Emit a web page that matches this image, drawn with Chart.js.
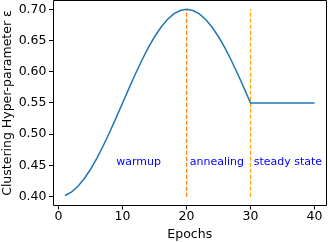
<!DOCTYPE html>
<html>
<head>
<meta charset="utf-8">
<script src="https://cdn.jsdelivr.net/npm/chart.js@4/dist/chart.umd.min.js"></script>
<style>
html,body{margin:0;padding:0;background:#fff;}
#wrap{width:330px;height:242px;position:relative;}
</style>
</head>
<body>
<div id="wrap"><canvas id="c" width="330" height="242"></canvas></div>
<script>
// Data
const epochs = [1,2,3,4,5,6,7,8,9,10,11,12,13,14,15,16,17,18,19,20,21,22,23,24,25,26,27,28,29,30,31,32,33,34,35,36,37,38,39,40];
const epsilon = [0.4018,0.4073,0.4163,0.4286,0.4439,0.4618,0.4819,0.5036,0.5265,0.5500,
                 0.5735,0.5964,0.6181,0.6382,0.6561,0.6714,0.6837,0.6927,0.6982,0.7000,
                 0.6982,0.6927,0.6837,0.6714,0.6561,0.6382,0.6181,0.5964,0.5735,0.5500,
                 0.5500,0.5500,0.5500,0.5500,0.5500,0.5500,0.5500,0.5500,0.5500,0.5500];
const phaseBoundaries = [20, 30];
const boundaryLow = 0.40;
const boundaryHigh = 0.70;
const phaseNames = ['warmup', 'annealing', 'steady state'];
const phaseLabelX = [9, 20.5, 30.5];
const phaseLabelY = 0.45;
const xTicks = [0, 10, 20, 30, 40];
const yTicks = [0.40, 0.45, 0.50, 0.55, 0.60, 0.65, 0.70];

const FONT = 'DejaVu Sans';
const mainData = epochs.map((e, i) => ({x: e, y: epsilon[i]}));
const boundaryColors = ['#ff7f0e', '#ffa500'];

const datasets = [{
  data: mainData,
  borderColor: '#1f77b4',
  borderWidth: 1.5,
  pointRadius: 0,
  tension: 0,
  fill: false
}];
phaseBoundaries.forEach((b, i) => {
  datasets.push({
    data: [{x: b, y: boundaryLow}, {x: b, y: boundaryHigh}],
    borderColor: boundaryColors[i],
    borderWidth: 1.3,
    borderDash: [4, 2],
    pointRadius: 0,
    fill: false
  });
});

const overlayPlugin = {
  id: 'overlay',
  afterDraw(chart) {
    const ctx = chart.ctx;
    const a = chart.chartArea;
    const xs = chart.scales.x, ys = chart.scales.y;
    ctx.save();
    ctx.fillStyle = '#0000ff';
    ctx.font = '11px "' + FONT + '"';
    ctx.textAlign = 'left';
    ctx.textBaseline = 'alphabetic';
    for (let i = 0; i < phaseNames.length; i++) {
      ctx.fillText(phaseNames[i], xs.getPixelForValue(phaseLabelX[i]), ys.getPixelForValue(phaseLabelY));
    }
    ctx.strokeStyle = '#000000';
    ctx.lineWidth = 1;
    ctx.setLineDash([]);
    const l = Math.round(a.left) + 0.5, t = Math.round(a.top) + 0.5;
    const r = Math.round(a.right) - 0.5, b = Math.round(a.bottom) - 0.5;
    ctx.beginPath();
    ctx.moveTo(l, t); ctx.lineTo(r, t); ctx.lineTo(r, b); ctx.lineTo(l, b); ctx.closePath();
    ctx.stroke();
    ctx.restore();
  }
};

new Chart(document.getElementById('c'), {
  type: 'line',
  data: {datasets},
  options: {
    responsive: false,
    animation: false,
    devicePixelRatio: 1,
    layout: {padding: {top: 0, right: 3, bottom: 0, left: 0}},
    plugins: {legend: {display: false}, tooltip: {enabled: false}},
    scales: {
      x: {
        type: 'linear',
        min: -0.95,
        max: 41.95,
        afterBuildTicks(s) { s.ticks = xTicks.map(v => ({value: v})); },
        afterFit(s) { s.height = 36; s.paddingLeft = 0; s.paddingRight = 0; },
        grid: {drawOnChartArea: false, drawTicks: true, tickLength: 3.5, color: '#000', tickColor: '#000'},
        border: {display: false},
        ticks: {color: '#000', font: {family: FONT, size: 12.5}, padding: 0, maxRotation: 0,
                callback: v => String(v)},
        title: {display: true, text: 'Epochs', color: '#000', font: {family: FONT, size: 12.5}, padding: {top: 1.5, bottom: 0}}
      },
      y: {
        type: 'linear',
        min: 0.385,
        max: 0.715,
        afterBuildTicks(s) { s.ticks = yTicks.map(v => ({value: v})); },
        afterFit(s) { s.width = 52.5; s.paddingTop = 0; s.paddingBottom = 0; },
        grid: {drawOnChartArea: false, drawTicks: true, tickLength: 3.5, color: '#000', tickColor: '#000'},
        border: {display: false},
        ticks: {color: '#000', font: {family: FONT, size: 12.5}, padding: 2.5,
                callback: v => Number(v).toFixed(2)},
        title: {display: true, text: 'Clustering Hyper-parameter ε', color: '#000', font: {family: FONT, size: 12.5}, padding: {top: 0, bottom: 0}}
      }
    }
  },
  plugins: [overlayPlugin]
});
</script>
</body>
</html>
